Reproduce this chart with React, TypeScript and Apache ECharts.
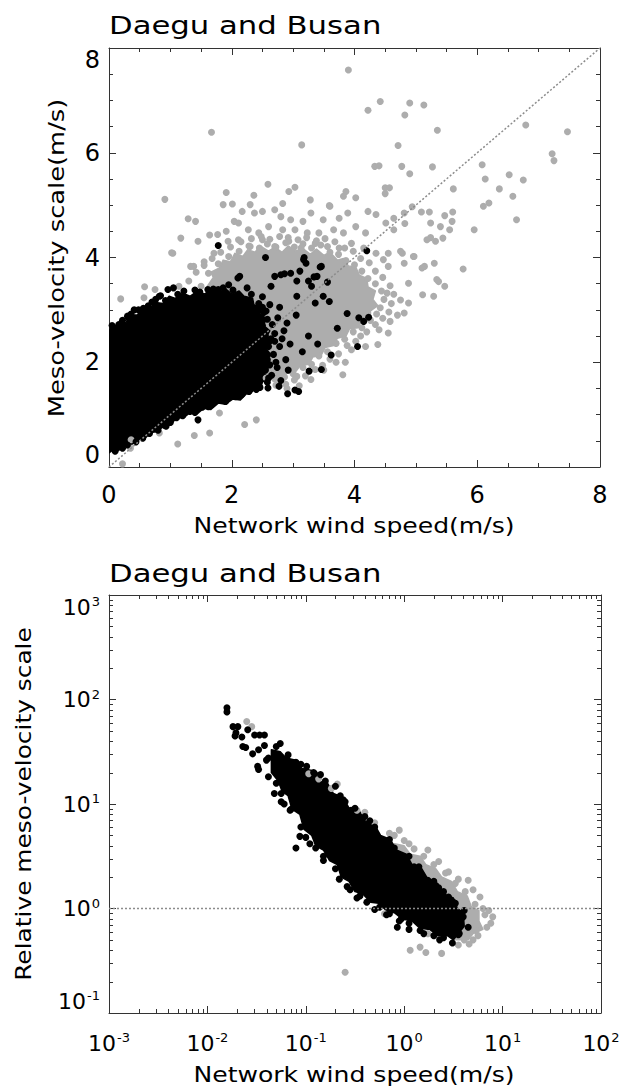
import React, { useEffect, useRef } from "react";
import * as echarts from "echarts";

const FONT = "DejaVu Sans";
const TITLE = "Daegu and Busan";
const X_NAME = "Network wind speed(m/s)";
const Y_NAME_TOP = "Meso-velocity scale(m/s)";
const Y_NAME_BOTTOM = "Relative meso-velocity scale";

// ---------- top panel (linear): [network wind speed, meso-velocity scale] ----------
const topRange = [0, 8];
const topInterval = 2;

// outline of the saturated (solid) part of the grey cloud
const topGrayCore = [
  [1.6, 3.45], [1.7, 3.62], [1.66, 3.72], [1.8, 3.8], [1.86, 3.95], [1.98, 3.92], [2.05, 4.08],
  [2.18, 4.02], [2.26, 4.15], [2.38, 4.1], [2.46, 4.22], [2.6, 4.12], [2.7, 4.2], [2.82, 4.1],
  [2.92, 4.22], [3.04, 4.12], [3.15, 4.18], [3.28, 4.06], [3.38, 4.16], [3.5, 4.04], [3.6, 4.1],
  [3.72, 3.95], [3.82, 3.98], [3.9, 3.84], [4.02, 3.82], [4.08, 3.66], [4.2, 3.6], [4.22, 3.44],
  [4.34, 3.36], [4.3, 3.2], [4.38, 3.08], [4.26, 2.98], [4.26, 2.84], [4.12, 2.8], [4.06, 2.66],
  [3.92, 2.64], [3.86, 2.5], [3.72, 2.46], [3.66, 2.32], [3.52, 2.28], [3.46, 2.14], [3.32, 2.1],
  [3.26, 1.96], [3.12, 1.94], [3.04, 1.82], [2.9, 1.8], [2.82, 1.7], [2.68, 1.72], [2.55, 1.66],
  [2.45, 1.8], [2.2, 2.4], [1.9, 3.0],
];
// outline of the saturated (solid) part of the black cloud
const topBlackCore = [
  [0, 0.27], [0.08, 0.34], [0.16, 0.32], [0.26, 0.42], [0.36, 0.42], [0.46, 0.52], [0.58, 0.54],
  [0.68, 0.66], [0.8, 0.68], [0.9, 0.8], [1.0, 0.8], [1.1, 0.94], [1.22, 0.94], [1.32, 1.04],
  [1.44, 1.02], [1.54, 1.12], [1.66, 1.1], [1.78, 1.22], [1.9, 1.2], [2.02, 1.3], [2.14, 1.28],
  [2.24, 1.4], [2.3, 1.4], [2.38, 1.5], [2.46, 1.48], [2.5, 1.62], [2.58, 1.7], [2.52, 1.82],
  [2.62, 1.92], [2.54, 2.02], [2.64, 2.14], [2.56, 2.26], [2.66, 2.38], [2.56, 2.48], [2.62, 2.6],
  [2.52, 2.7], [2.56, 2.84], [2.46, 2.92], [2.48, 3.04], [2.36, 3.1], [2.34, 3.22], [2.2, 3.26],
  [2.12, 3.36], [2.0, 3.3], [1.9, 3.4], [1.78, 3.32], [1.66, 3.4], [1.56, 3.3], [1.44, 3.36],
  [1.32, 3.26], [1.2, 3.32], [1.08, 3.22], [0.98, 3.26], [0.88, 3.12], [0.76, 3.14], [0.66, 3.02],
  [0.56, 3.04], [0.46, 2.9], [0.36, 2.9], [0.28, 2.76], [0.18, 2.78], [0.1, 2.64], [0.02, 2.66],
  [0, 2.56],
];
const topGrayPoints = [
  [3.90, 7.58], [1.67, 6.39], [3.14, 6.15], [4.22, 6.81], [4.42, 6.98], [4.82, 6.72], [4.90, 6.95],
  [5.13, 6.91], [5.35, 6.43], [4.71, 6.14], [6.79, 6.53], [7.47, 6.40], [7.22, 5.98], [7.25, 5.85],
  [4.33, 5.74], [4.40, 5.75], [4.77, 5.74], [4.90, 5.60], [5.27, 5.73], [6.08, 5.77], [6.13, 5.50],
  [6.52, 5.58], [6.75, 5.48], [6.36, 5.31], [6.58, 5.17], [6.64, 4.72], [6.10, 4.98], [6.19, 5.04],
  [5.95, 4.53], [0.91, 5.11], [1.04, 4.08], [1.29, 4.74], [1.41, 4.69], [1.17, 4.37], [1.45, 4.31],
  [1.91, 5.24], [2.36, 5.19], [2.59, 5.40], [2.93, 5.26], [3.03, 5.34], [1.86, 5.01], [2.01, 5.02],
  [2.30, 5.01], [2.37, 4.85], [2.50, 4.88], [2.83, 5.03], [3.28, 5.10], [3.60, 4.98], [3.82, 5.17],
  [4.02, 5.14], [3.86, 5.26], [4.50, 5.33], [4.57, 5.33], [4.50, 5.22], [5.61, 5.31],
  [4.22, 4.88], [4.35, 4.82], [4.64, 4.75], [4.81, 4.85], [4.94, 4.97], [5.09, 4.87], [5.22, 4.87],
  [5.47, 4.80], [5.60, 4.87], [5.24, 4.66], [5.40, 4.59], [5.59, 4.69], [5.44, 4.37], [5.24, 4.38],
  [5.55, 4.53], [5.77, 3.78], [4.51, 4.66], [4.82, 4.65], [4.64, 4.53], [4.18, 4.47], [4.02, 4.59],
  [3.89, 4.85], [3.75, 4.75], [3.59, 4.99], [3.49, 4.72], [3.29, 4.85], [3.16, 4.69], [2.96, 4.72],
  [2.80, 4.78], [2.70, 4.91], [2.04, 4.69], [2.17, 4.88], [2.11, 4.66], [2.27, 4.53], [2.44, 4.47],
  [2.60, 4.59], [2.83, 4.53], [3.03, 4.53], [3.23, 4.47], [3.42, 4.47], [3.66, 4.53], [3.82, 4.47],
  [1.77, 4.44], [1.91, 4.50], [1.64, 4.43], [1.94, 4.31], [2.11, 4.34], [2.30, 4.21], [2.50, 4.34],
  [2.70, 4.21], [2.93, 4.31], [3.13, 4.18], [3.36, 4.27], [3.56, 4.21], [3.75, 4.18], [3.95, 4.27],
  [4.15, 4.18], [4.35, 4.08], [4.55, 4.08], [4.78, 4.08], [4.97, 4.02], [5.14, 3.83], [5.30, 3.89],
  [4.81, 3.89], [4.55, 3.83], [1.38, 3.83], [1.55, 3.92], [1.71, 4.08], [1.02, 4.09], [1.33, 3.83],
  [0.19, 3.21], [0.58, 3.44], [0.57, 3.23], [0.75, 3.39], [1.14, 3.45],
  [5.37, 3.54], [5.47, 3.45], [5.11, 3.29], [4.88, 3.13], [4.81, 2.94], [4.55, 2.56], [4.38, 2.34],
  [4.18, 2.30], [3.95, 2.24], [3.81, 1.76], [3.29, 1.67], [3.06, 1.73], [3.85, 2.0],
  [5.18, 4.34], [5.32, 4.31], [4.75, 4.12], [4.96, 4.02], [5.10, 3.80], [4.47, 3.96], [4.88, 3.51],
  [4.53, 3.32], [4.75, 3.19], [5.34, 3.58], [5.29, 3.26], [4.58, 2.78], [4.70, 2.90], [4.40, 2.62],
  [4.10, 2.50], [3.70, 2.00], [3.50, 1.85], [3.10, 1.55], [2.90, 1.50],
  [0.22, 0.06], [0.35, 0.36], [0.36, 0.52], [0.82, 0.65], [1.12, 0.44], [1.39, 0.60], [1.64, 0.65],
  [1.80, 1.03], [2.21, 0.81], [2.40, 0.90],
  // ragged rim of the dense grey area
  [1.30, 3.55], [1.42, 3.72], [1.55, 3.85], [1.68, 3.98], [1.82, 4.10], [1.98, 4.20], [2.15, 4.30],
  [2.32, 4.36], [2.48, 4.40], [2.62, 4.35], [2.78, 4.40], [2.92, 4.38], [3.08, 4.34], [3.22, 4.38],
  [3.38, 4.32], [3.52, 4.36], [3.68, 4.30], [3.84, 4.18], [3.98, 4.12], [4.10, 3.98], [4.24, 3.90],
  [4.34, 3.74], [4.46, 3.62], [4.58, 3.46], [4.64, 3.30], [4.60, 3.12], [4.56, 2.96], [4.46, 2.84],
  [4.34, 2.72], [4.20, 2.58], [4.02, 2.40], [3.88, 2.32], [3.74, 2.16], [3.60, 2.06], [3.48, 1.94],
  [3.36, 1.86], [3.20, 1.74], [3.02, 1.66], [2.88, 1.58], [2.72, 1.56],
  [1.50, 3.45], [1.62, 3.70], [1.78, 3.88], [1.95, 4.02], [2.12, 4.12], [2.28, 4.22], [2.45, 4.18],
  [2.58, 4.26], [2.72, 4.20], [2.88, 4.28], [3.02, 4.20], [3.16, 4.26], [3.30, 4.18], [3.45, 4.24],
  [3.60, 4.10], [3.74, 4.06], [3.86, 3.94], [4.00, 3.86], [4.12, 3.74], [4.22, 3.60], [4.34, 3.50],
  [4.44, 3.36], [4.48, 3.20], [4.42, 3.04], [4.36, 2.92], [4.26, 2.80], [4.12, 2.66], [3.98, 2.58],
  [3.84, 2.44], [3.70, 2.36], [3.56, 2.20], [3.42, 2.12], [3.30, 1.96], [3.16, 1.90], [3.00, 1.78],
  [2.86, 1.72], [2.70, 1.68], [2.56, 1.70],
];
const topBlackPoints = [
  [1.78, 4.23], [2.55, 4.00], [3.18, 4.00], [3.21, 3.89], [3.46, 3.83], [4.20, 4.13], [2.13, 3.64],
  [2.70, 3.64], [2.86, 3.69], [2.96, 3.70], [3.11, 3.74], [3.39, 3.64], [3.17, 3.96], [3.44, 3.82],
  [3.34, 3.63], [3.06, 3.55], [3.25, 3.55], [3.30, 3.45], [3.06, 3.26], [3.49, 3.26], [3.36, 3.13],
  [3.59, 3.16], [3.56, 3.53], [3.88, 2.93], [4.07, 2.85], [4.15, 2.78], [4.23, 2.86], [4.05, 2.30],
  [3.72, 2.65], [3.62, 2.14], [3.46, 1.86], [3.09, 1.44], [2.91, 1.40], [3.03, 1.47], [2.59, 1.51],
  [2.16, 1.38], [1.77, 1.29], [1.23, 1.11], [1.45, 0.90], [0.93, 0.78], [0.96, 3.39], [0.84, 3.27],
  [0.41, 3.00], [0.30, 2.88], [0.16, 2.72], [0.32, 2.84], [0.56, 3.03], [0.82, 3.26], [1.05, 3.42],
  [1.61, 3.39], [1.78, 3.39], [2.10, 3.61], [2.80, 3.67], [2.64, 3.45],
  [0.10, 0.30], [0.30, 0.42], [0.55, 0.55], [0.80, 0.70], [1.00, 0.85], [1.20, 0.98], [1.40, 1.04],
  [1.62, 1.15], [1.90, 1.25], [2.40, 1.48], [2.65, 1.75], [2.72, 2.0], [2.78, 2.3], [2.70, 2.55],
  [2.75, 2.85], [2.62, 3.1], [2.85, 2.6], [2.68, 2.15], [2.88, 2.05], [2.80, 1.65], [2.50, 3.25],
  [2.25, 3.42], [1.95, 3.48], [1.40, 3.38], [0.70, 3.15], [0.05, 2.70],
  [2.77, 1.54], [3.26, 1.83], [3.05, 2.9], [3.25, 2.5], [3.15, 2.2], [3.40, 2.35], [2.95, 2.35],
  // ragged rim of the dense black area
  [0.08, 2.66], [0.22, 2.80], [0.36, 2.92], [0.48, 3.00], [0.64, 3.08], [0.76, 3.20], [0.92, 3.18],
  [1.12, 3.30], [1.22, 3.36], [1.48, 3.34], [1.70, 3.40], [1.86, 3.42], [2.02, 3.38], [2.32, 3.30],
  [2.44, 3.12], [2.56, 2.98], [2.66, 2.72], [2.70, 2.40], [2.74, 1.90], [2.58, 1.62], [2.46, 1.52],
  [2.28, 1.44], [2.06, 1.34], [1.84, 1.28], [1.68, 1.20], [1.52, 1.14], [1.32, 1.06], [1.10, 0.94],
  [0.90, 0.80], [0.66, 0.64], [0.44, 0.48], [0.22, 0.36],
  [2.55, 1.85], [2.58, 2.05], [2.60, 2.30], [2.55, 2.50], [2.58, 2.82], [2.50, 2.70], [2.62, 1.95],
  [2.52, 2.95], [2.64, 2.45], [2.50, 3.05], [2.82, 2.45], [2.90, 2.75], [2.78, 3.05], [2.92, 1.85],
  [2.60, 1.70],
];
const oneToOne = [[0, 0], [8, 8]];

// ---------- bottom panel (log-log): [network wind speed, relative meso-velocity scale] ----------
const logXRange = [0.001, 100];
const logYRange = [0.1, 1000];
const logGrayCore = [
  [0.794, 4.17], [1.0, 3.98], [1.15, 3.31], [1.45, 3.16], [1.66, 2.63], [2.09, 2.40], [2.40, 2.0],
  [3.02, 1.82], [3.47, 1.45], [4.37, 1.32], [4.79, 1.05], [5.75, 0.955], [5.75, 0.759], [6.31, 0.631],
  [5.01, 0.575], [4.47, 0.501], [3.16, 0.501], [2.51, 0.794], [1.0, 2.0], [0.631, 3.55],
];
const logBlackCore = [
  [0.0447, 33.1], [0.0550, 31.6], [0.0631, 27.5], [0.0794, 26.3], [0.0912, 21.9], [0.115, 20.9],
  [0.132, 16.6], [0.166, 15.8], [0.191, 12.6], [0.240, 11.5], [0.275, 9.12], [0.347, 8.71],
  [0.398, 6.92], [0.501, 6.31], [0.575, 5.01], [0.724, 4.57], [0.832, 3.63], [1.05, 3.31],
  [1.20, 2.63], [1.51, 2.40], [1.74, 1.91], [2.19, 1.74], [2.51, 1.38], [3.16, 1.26], [3.47, 1.0],
  [3.98, 0.912], [4.07, 0.676],
  [3.16, 0.501], [2.75, 0.550], [2.19, 0.550], [1.82, 0.631], [1.45, 0.646], [1.20, 0.759],
  [0.955, 0.794], [0.794, 0.912], [0.661, 0.955], [0.550, 1.12], [0.457, 1.15], [0.380, 1.38],
  [0.316, 1.45], [0.275, 1.82], [0.229, 2.0], [0.209, 2.63], [0.174, 2.88], [0.151, 3.63],
  [0.126, 3.98], [0.115, 5.01], [0.0955, 5.75], [0.0871, 7.94], [0.0724, 8.91], [0.0661, 12.0],
  [0.0575, 13.2], [0.0525, 16.6], [0.0447, 20.0],
];
const logGrayPoints = [
  [0.0251, 61.7], [0.0282, 55.0], [0.107, 19.5], [0.135, 17.4], [0.182, 14.1], [0.209, 15.5],
  [0.331, 8.71], [0.891, 5.62], [1.26, 3.72], [1.74, 3.63], [4.47, 1.86], [5.89, 1.29], [7.94, 0.832],
  [7.24, 0.955], [7.59, 0.724], [5.37, 0.617], [4.07, 0.501], [1.15, 0.398], [1.45, 0.427],
  [1.66, 0.38], [2.40, 0.372], [0.251, 0.245], [2.82, 2.24], [3.55, 1.91], [2.24, 2.82], [5.01, 1.51],
  [6.31, 1.0], [5.01, 0.501], [3.55, 0.447], [0.501, 6.61], [0.708, 5.25], [1.0, 4.47], [0.631, 0.891],
  [1.74, 0.575],
  [0.398, 8.32], [0.794, 5.01], [1.12, 4.17], [1.58, 3.16], [2.0, 2.63], [2.63, 2.19], [3.31, 1.74],
  [4.17, 1.45], [5.25, 1.10], [6.61, 0.871], [6.92, 0.661], [5.62, 0.550], [4.57, 0.457],
];
const logBlackPoints = [
  [0.0158, 83.2], [0.0158, 75.9], [0.0182, 55.0], [0.0195, 47.9], [0.0191, 44.7], [0.0204, 55.0],
  [0.0224, 43.7], [0.0257, 51.3], [0.0302, 45.7], [0.0339, 45.7], [0.038, 45.7], [0.0229, 35.5],
  [0.0245, 34.7], [0.0288, 30.2], [0.0331, 33.1], [0.038, 36.3], [0.055, 38.0], [0.0324, 22.9],
  [0.0331, 21.4], [0.0417, 27.5], [0.0417, 18.2], [0.0398, 26.3], [0.0479, 28.2], [0.0501, 25.1],
  [0.0631, 26.3], [0.0794, 25.1], [0.102, 22.9], [0.066, 19.5], [0.123, 19.5], [0.107, 15.1],
  [0.2, 14.8], [0.0479, 12.6], [0.0562, 12.6], [0.0708, 12.6], [0.123, 9.33], [0.251, 10.5],
  [0.398, 7.59], [0.087, 4.9], [0.0794, 3.8], [0.288, 8.71], [0.617, 4.17], [0.977, 3.09],
  [1.74, 1.86], [2.82, 1.29], [4.07, 0.955], [4.47, 0.661],
  [0.1, 7.08], [0.178, 3.39], [0.263, 1.62], [0.562, 1.03], [0.851, 0.661], [0.933, 0.794],
  [1.45, 0.617], [3.09, 0.468], [2.51, 0.525], [2.0, 0.55], [3.55, 0.562], [0.151, 3.16],
  [0.11, 4.17], [0.355, 1.32], [0.708, 0.891], [1.12, 0.724],
  [0.0692, 8.71], [0.0603, 10.0], [0.158, 16.6], [0.141, 19.1], [0.24, 11.0], [0.501, 6.03],
  [0.794, 3.80], [1.26, 2.51], [2.24, 1.58], [3.31, 1.12],
  // ragged rim of the dense black band
  [0.0501, 15.8], [0.0562, 10.5], [0.0708, 8.91], [0.0891, 6.03], [0.1, 4.79], [0.126, 3.80],
  [0.151, 2.88], [0.2, 2.40], [0.219, 1.91], [0.282, 1.51], [0.331, 1.26], [0.417, 1.15],
  [0.501, 0.977], [0.661, 0.871], [0.891, 0.759], [1.12, 0.631], [1.58, 0.575], [2.29, 0.501],
  [0.0501, 35.5], [0.0661, 29.5], [0.0891, 24.0], [0.120, 20.0], [0.224, 12.0], [0.316, 9.12],
  [0.447, 6.92], [0.708, 4.57], [1.12, 3.16], [1.41, 2.51], [2.0, 1.82], [2.51, 1.45], [3.16, 1.15],
  [3.98, 0.832], [3.63, 0.575],
];
const unityLine = [[0.001, 1], [100, 1]];

const GRAY = "#adadad";
const BLACK = "#000000";
const AXIS = "#333333";

function decadeMinors(fromExp: number, toExp: number) {
  const out: number[] = [];
  for (let e = fromExp; e < toExp; e++) {
    for (let k = 2; k <= 9; k++) out.push(k * Math.pow(10, e));
  }
  return out;
}

const powLabel = (v: number) => {
  const e = Math.round(Math.log10(v));
  return `{b|10}{s|${e}}`;
};

const richPow = {
  b: { fontSize: 22, fontFamily: FONT, color: "#000", lineHeight: 24 },
  s: { fontSize: 13, fontFamily: FONT, color: "#000", verticalAlign: "top", lineHeight: 24, padding: [0, 0, 10, 1] },
};

function linAxis(gridIndex: number, position: string, isX: boolean, labels: boolean) {
  return {
    gridIndex,
    type: "value",
    position,
    min: topRange[0],
    max: topRange[1],
    interval: topInterval,
    axisLine: { show: true, onZero: false, lineStyle: { color: AXIS, width: 1 } },
    axisTick: { show: true, inside: true, length: 7, lineStyle: { color: AXIS } },
    minorTick: { show: true, splitNumber: 4, length: 4, lineStyle: { color: AXIS } },
    splitLine: { show: false },
    axisLabel: labels
      ? {
          show: true,
          fontSize: 24,
          fontFamily: FONT,
          color: "#000",
          margin: isX ? 16 : 9,
          ...(isX ? {} : { verticalAlignMinLabel: "bottom", verticalAlignMaxLabel: "top" }),
        }
      : { show: false },
  };
}

function logAxis(gridIndex: number, position: string, isX: boolean, labels: boolean) {
  const r = isX ? logXRange : logYRange;
  return {
    gridIndex,
    type: "log",
    logBase: 10,
    position,
    min: r[0],
    max: r[1],
    axisLine: { show: true, onZero: false, lineStyle: { color: AXIS, width: 1 } },
    axisTick: { show: true, inside: true, length: 7, lineStyle: { color: AXIS } },
    minorTick: { show: false },
    splitLine: { show: false },
    axisLabel: labels
      ? {
          show: true,
          formatter: powLabel,
          rich: richPow,
          margin: isX ? 18 : 9,
          ...(isX ? {} : { verticalAlignMinLabel: "bottom", verticalAlignMaxLabel: "top" }),
        }
      : { show: false },
  };
}

function polygonSeries(verts: number[][], color: string, xi: number, yi: number) {
  return {
    type: "custom",
    xAxisIndex: xi,
    yAxisIndex: yi,
    data: verts,
    encode: { x: 0, y: 1 },
    clip: true,
    silent: true,
    renderItem: (params: any, api: any) => {
      if (params.dataIndex !== 0) return { type: "group", children: [] };
      return {
        type: "polygon",
        shape: { points: verts.map((v) => api.coord(v)) },
        style: { fill: color, stroke: color, lineWidth: 1.5, lineJoin: "round" },
      };
    },
  };
}

function dotSeries(data: number[][], color: string, xi: number, yi: number) {
  return {
    type: "scatter",
    xAxisIndex: xi,
    yAxisIndex: yi,
    data,
    symbol: "circle",
    symbolSize: 7,
    itemStyle: { color, opacity: 1 },
    silent: true,
    clip: true,
  };
}

function minorTickSeries(values: number[], isX: boolean, xi: number, yi: number) {
  return {
    type: "custom",
    xAxisIndex: xi,
    yAxisIndex: yi,
    data: values.map((v) => (isX ? [v, 1] : [1, v])),
    encode: { x: 0, y: 1 },
    silent: true,
    z: 10,
    renderItem: (params: any, api: any) => {
      const cs = params.coordSys;
      const p = api.coord([api.value(0), api.value(1)]);
      const st = { stroke: AXIS, lineWidth: 1 };
      if (isX) {
        const x = Math.round(p[0]) + 0.5;
        return {
          type: "group",
          children: [
            { type: "line", shape: { x1: x, y1: cs.y + cs.height, x2: x, y2: cs.y + cs.height - 4 }, style: st },
            { type: "line", shape: { x1: x, y1: cs.y, x2: x, y2: cs.y + 4 }, style: st },
          ],
        };
      }
      const y = Math.round(p[1]) + 0.5;
      return {
        type: "group",
        children: [
          { type: "line", shape: { x1: cs.x, y1: y, x2: cs.x + 4, y2: y }, style: st },
          { type: "line", shape: { x1: cs.x + cs.width, y1: y, x2: cs.x + cs.width - 4, y2: y }, style: st },
        ],
      };
    },
  };
}

function textEl(text: string, x: number, y: number, size: number, scaleX: number, rotate: boolean, align: string) {
  return {
    type: "text",
    x,
    y,
    rotation: rotate ? Math.PI / 2 : 0,
    scaleX,
    silent: true,
    style: {
      text,
      fontSize: size,
      fontFamily: FONT,
      fill: "#000",
      align,
      verticalAlign: "middle",
    },
  };
}

export default function App() {
  const ref = useRef<HTMLDivElement>(null);
  useEffect(() => {
    if (!ref.current) return;
    const chart = echarts.init(ref.current, null, { renderer: "svg" });
    const option: any = {
      animation: false,
      backgroundColor: "#ffffff",
      grid: [
        { left: 109, right: 30, top: 48, height: 419, containLabel: false },
        { left: 109, right: 29, top: 595, height: 418, containLabel: false },
      ],
      xAxis: [
        linAxis(0, "bottom", true, true),
        linAxis(0, "top", true, false),
        logAxis(1, "bottom", true, true),
        logAxis(1, "top", true, false),
      ],
      yAxis: [
        linAxis(0, "left", false, true),
        linAxis(0, "right", false, false),
        logAxis(1, "left", false, true),
        logAxis(1, "right", false, false),
      ],
      series: [
        polygonSeries(topGrayCore, GRAY, 0, 0),
        dotSeries(topGrayPoints, GRAY, 0, 0),
        polygonSeries(topBlackCore, BLACK, 0, 0),
        dotSeries(topBlackPoints, BLACK, 0, 0),
        {
          type: "line",
          xAxisIndex: 0,
          yAxisIndex: 0,
          data: oneToOne,
          symbol: "none",
          silent: true,
          lineStyle: { color: "#8c8c8c", width: 1.5, type: [2, 2] },
          z: 5,
        },
        polygonSeries(logGrayCore, GRAY, 2, 2),
        dotSeries(logGrayPoints, GRAY, 2, 2),
        polygonSeries(logBlackCore, BLACK, 2, 2),
        dotSeries(logBlackPoints, BLACK, 2, 2),
        {
          type: "line",
          xAxisIndex: 2,
          yAxisIndex: 2,
          data: unityLine,
          symbol: "none",
          silent: true,
          lineStyle: { color: "#8c8c8c", width: 1.5, type: [2, 2] },
          z: 5,
        },
        minorTickSeries(decadeMinors(-3, 2), true, 2, 2),
        minorTickSeries(decadeMinors(-1, 3), false, 2, 2),
      ],
      graphic: [
        textEl(TITLE, 109, 25, 24, 1.28, false, "left"),
        textEl(TITLE, 109, 573, 24, 1.28, false, "left"),
        textEl(X_NAME, 354, 526, 22, 1.14, false, "center"),
        textEl(X_NAME, 354, 1075, 22, 1.14, false, "center"),
        textEl(Y_NAME_TOP, 57, 258, 22, 1.17, true, "center"),
        textEl(Y_NAME_BOTTOM, 24, 804, 22, 1.13, true, "center"),
      ],
    };
    chart.setOption(option);
    return () => chart.dispose();
  }, []);
  return (
    <div
      ref={ref}
      style={{ position: "fixed", left: 0, top: 0, width: 630, height: 1088, background: "#fff" }}
    />
  );
}
